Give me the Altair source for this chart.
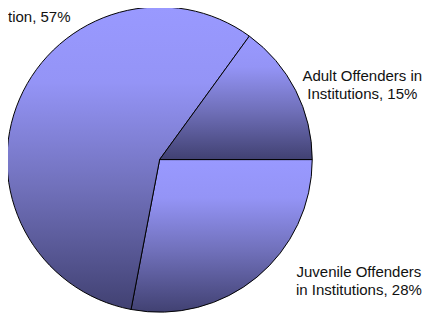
import math
import altair as alt
import pandas as pd

# Slices, listed clockwise starting at 3 o'clock
categories = ["Juvenile Offenders in Institutions", "Offenders on Probation", "Adult Offenders in Institutions"]
values = [28, 57, 15]
slice_order = [0, 1, 2]
labels = ["Juvenile Offenders\nin Institutions, 28%", "tion, 57%", "Adult Offenders in\nInstitutions, 15%"]

df = pd.DataFrame({"category": categories, "value": values, "ord": slice_order})

grad = alt.LinearGradient(
    gradient="linear",
    x1=0, y1=0, x2=0, y2=1,
    stops=[
        alt.GradientStop(color="#9999FF", offset=0),
        alt.GradientStop(color="#9494F6", offset=0.25),
        alt.GradientStop(color="#7070BA", offset=0.6),
        alt.GradientStop(color="#414172", offset=1),
    ],
)

start = math.pi / 2
pie = alt.Chart(df).mark_arc(radius=155.5, fill=grad, stroke="black", strokeWidth=1).encode(
    theta=alt.Theta("value:Q", stack=True, scale=alt.Scale(range=[start, start + 2 * math.pi])),
    order=alt.Order("ord:O"),
    x=alt.value(154.5),
    y=alt.value(151.5),
)

def label_layer(text, x, y, align):
    return alt.Chart(pd.DataFrame({"label": [text]})).mark_text(
        font="Liberation Sans", fontSize=15.3, lineBreak="\n", lineHeight=19,
        align=align, baseline="alphabetic", color="#111111",
    ).encode(text="label:N", x=alt.value(x), y=alt.value(y))

chart = alt.layer(
    pie,
    label_layer(labels[0], 357.5, 271, "center"),
    label_layer(labels[1], 0, 11.5, "left"),
    label_layer(labels[2], 361, 71, "center"),
).properties(
    width=431, height=310,
    autosize=alt.AutoSizeParams(type="none"),
    padding=0,
    background="white",
).configure_view(stroke=None)

chart.save("out.html", embed_options={"renderer": "svg", "actions": False})
